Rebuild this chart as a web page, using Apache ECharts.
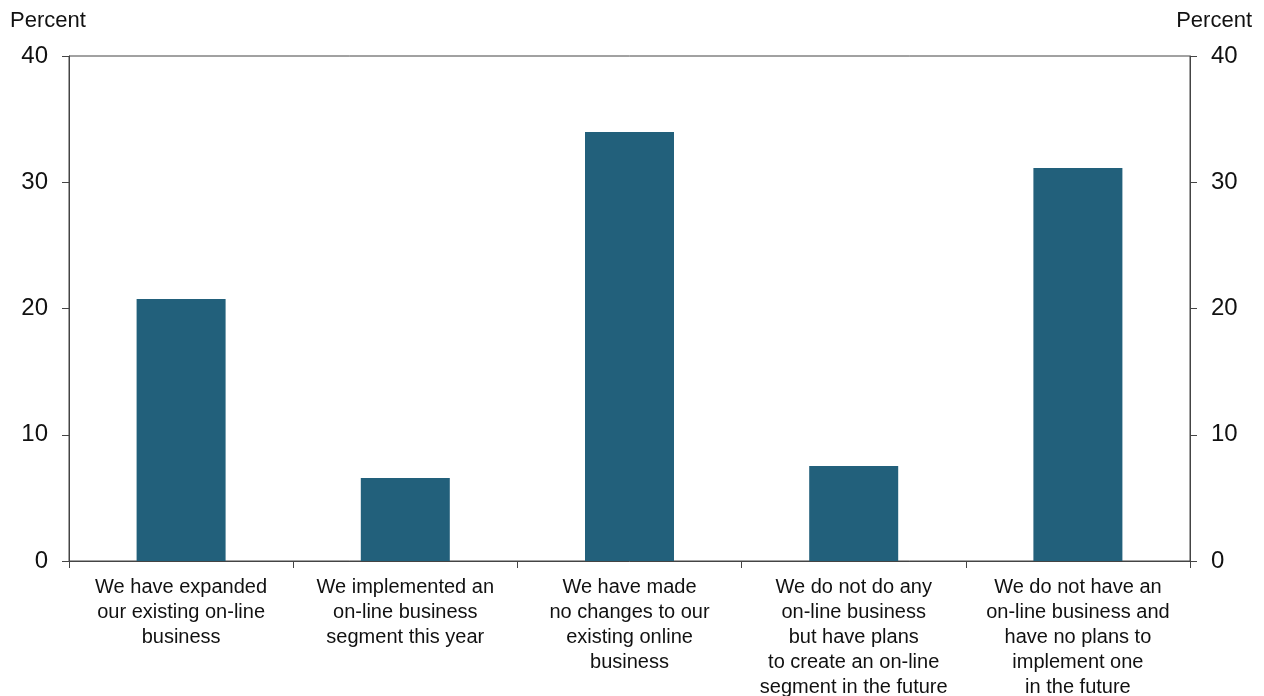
<!DOCTYPE html>
<html><head><meta charset="utf-8">
<script src="https://cdn.jsdelivr.net/npm/echarts@6/dist/echarts.min.js"></script>
<style>html,body{margin:0;padding:0;background:#fff}#c{width:1264px;height:696px}</style>
</head><body><div id="c"></div>
<script>
const categories = [
  "We have expanded\nour existing on-line\nbusiness",
  "We implemented an\non-line business\nsegment this year",
  "We have made\nno changes to our\nexisting online\nbusiness",
  "We do not do any\non-line business\nbut have plans\nto create an on-line\nsegment in the future",
  "We do not have an\non-line business and\nhave no plans to\nimplement one\nin the future"
];
const values = [20.75, 6.57, 33.98, 7.52, 31.13];
const yTicks = { min: 0, max: 40, interval: 10 };
const unitLabel = "Percent";

const FONT = "Liberation Sans";
const axisColor = "#444";
const chart = echarts.init(document.getElementById('c'));
const yAxisBase = (pos) => ({
  type: 'value', position: pos, min: yTicks.min, max: yTicks.max, interval: yTicks.interval,
  axisLine: { show: true, lineStyle: { color: axisColor, width: 1 } },
  axisTick: { show: true, length: 7, lineStyle: { color: axisColor } },
  axisLabel: { color: '#111', fontSize: 24, fontFamily: FONT, margin: 21 },
  splitLine: { show: false }
});
chart.setOption({
  animation: false,
  textStyle: { fontFamily: FONT },
  grid: { left: 69, right: 74, top: 56, bottom: 135, show: true, borderColor: axisColor, borderWidth: 1,
          containLabel: false, outerBoundsMode: 'none' },
  graphic: [
    { type: 'text', left: 10, top: 10, style: { text: unitLabel, fontSize: 22, fontFamily: FONT, fill: '#111' } },
    { type: 'text', right: 12, top: 10, style: { text: unitLabel, fontSize: 22, fontFamily: FONT, fill: '#111' } }
  ],
  xAxis: {
    type: 'category', data: categories,
    axisLine: { show: true, lineStyle: { color: axisColor, width: 1 } },
    axisTick: { show: true, length: 7, lineStyle: { color: axisColor } },
    axisLabel: { color: '#111', fontSize: 20, fontFamily: FONT, lineHeight: 25, margin: 14, interval: 0 }
  },
  yAxis: [yAxisBase('left'), yAxisBase('right')],
  series: [{
    type: 'bar', data: values, yAxisIndex: 0, barWidth: 89,
    itemStyle: { color: '#22607B' }
  }]
});
</script></body></html>
